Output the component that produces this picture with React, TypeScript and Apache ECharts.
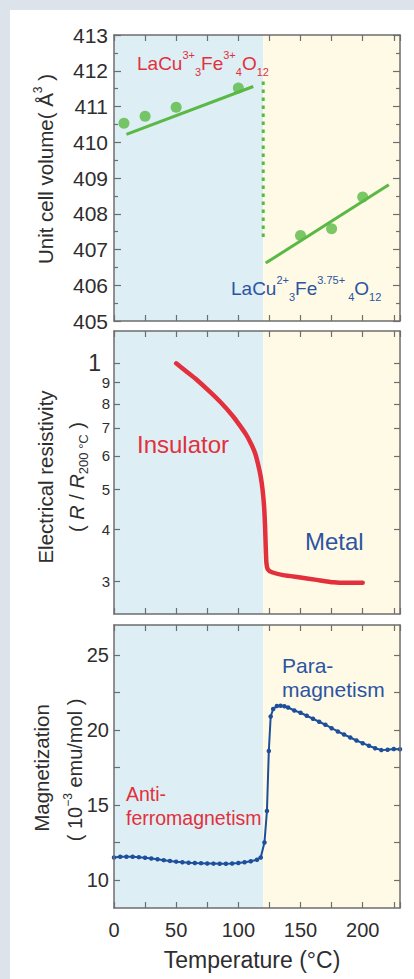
import React, { useEffect, useRef } from "react";
import * as echarts from "echarts";

const FONT = "'Liberation Sans', Arial, Helvetica, sans-serif";
const GREEN = "#5ab945";
const RED = "#e2303c";
const BLUE = "#2c54a2";
const LINE_BLUE = "#1e4f9d";
const AXIS = "#6e6e6e";
const TEXT = "#2e2e2e";
const SHADE_LOW = "#ddeef4";
const SHADE_HIGH = "#fefae6";

// Temperature axis (shared)
const tempMin = 0;
const tempMax = 230;
const tempTickStep = 25;
const tempLabelStep = 50;
const transitionTemp = 120;

// Panel 1: unit cell volume
const volLowTemp = [8, 25, 50, 100];
const volLowVal = [410.53, 410.73, 410.98, 411.52];
const volHighTemp = [150, 175, 200];
const volHighVal = [407.39, 407.58, 408.47];
const fitLowTemp = [10, 112];
const fitLowVal = [410.22, 411.56];
const fitHighTemp = [122, 221];
const fitHighVal = [406.62, 408.81];
const dividerVal = [411.7, 407.3];
const volMin = 405;
const volMax = 413;

// Panel 2: electrical resistivity (log scale)
const resTemp = [50, 58, 66.5, 77, 86.5, 96, 101, 106.5, 110.5, 113.5, 116, 118, 119.5, 120.7, 121.5, 122, 122.6, 123.7, 127, 136, 150, 163, 176.5, 187, 200];
const resVal = [10.0, 9.57, 9.13, 8.55, 8.02, 7.45, 7.11, 6.73, 6.39, 6.09, 5.71, 5.35, 4.97, 4.54, 4.06, 3.64, 3.32, 3.21, 3.16, 3.11, 3.07, 3.03, 2.99, 2.98, 2.98];
const resTicks = [3, 4, 5, 6, 7, 8, 9, 10];
const resMin = 2.51;
const resMax = 11.95;

// Panel 3: magnetization
const magTemp = [0, 5, 10, 15, 20, 25, 30, 35, 40, 45, 50, 55, 60, 65, 70, 75, 80, 85, 90, 95, 100, 105, 110, 115, 118, 121, 123, 124.5, 126, 128, 131, 134, 137, 140, 145, 150, 155, 160, 165, 170, 175, 180, 185, 190, 195, 200, 205, 210, 215, 220, 225, 230];
const magVal = [11.5, 11.55, 11.55, 11.55, 11.52, 11.48, 11.43, 11.38, 11.32, 11.27, 11.22, 11.18, 11.15, 11.13, 11.12, 11.1, 11.09, 11.08, 11.08, 11.1, 11.13, 11.18, 11.25, 11.35, 11.5, 12.5, 14.6, 18.6, 20.9, 21.4, 21.6, 21.62, 21.58, 21.5, 21.3, 21.15, 20.95, 20.75, 20.55, 20.35, 20.12, 19.9, 19.7, 19.5, 19.3, 19.12, 18.95, 18.78, 18.66, 18.68, 18.73, 18.72];
const magLabels = [10, 15, 20, 25];
const magTicks = [10, 12.5, 15, 17.5, 20, 22.5, 25];
const magMin = 8.13;
const magMax = 27;

const zip = (a: number[], b: number[]) => a.map((v, i) => [v, b[i]]);

const axisLine = { show: true, onZero: false, lineStyle: { color: AXIS, width: 1.5 } };
const tickStyle = { color: AXIS, width: 1.2 };

function tempAxes(gridIndex: number, showLabels: boolean) {
  const base: any = {
    type: "value",
    gridIndex,
    min: tempMin,
    max: tempMax,
    interval: tempTickStep,
    z: 10,
    axisLine,
    splitLine: { show: false },
    axisTick: { inside: true, length: 6, lineStyle: tickStyle },
  };
  return [
    {
      ...base,
      position: "bottom",
      axisLabel: showLabels
        ? {
            formatter: (v: number) => (v % tempLabelStep === 0 && v <= 200 ? String(v) : ""),
            fontSize: 20,
            fontFamily: FONT,
            color: TEXT,
            margin: 12,
          }
        : { show: false },
    },
    { ...base, position: "top", axisLabel: { show: false } },
  ];
}

function shadeSeries(xi: number, yi: number, pts: number[][]) {
  return {
    type: "line",
    xAxisIndex: xi,
    yAxisIndex: yi,
    data: pts,
    symbol: "none",
    silent: true,
    lineStyle: { opacity: 0 },
    z: 1,
    markArea: {
      silent: true,
      z: 1,
      data: [
        [{ xAxis: tempMin, itemStyle: { color: SHADE_LOW } }, { xAxis: transitionTemp }],
        [{ xAxis: transitionTemp, itemStyle: { color: SHADE_HIGH } }, { xAxis: tempMax }],
      ],
    },
  };
}

export default function App() {
  const ref = useRef<HTMLDivElement>(null);
  useEffect(() => {
    if (!ref.current) return;
    const chart = echarts.init(ref.current, undefined, { renderer: "svg" });

    const yLeftRight = (gridIndex: number, extra: any, labelCfg: any) => [
      { type: "value", gridIndex, position: "left", z: 10, axisLine, splitLine: { show: false }, ...extra, axisLabel: labelCfg },
      { type: "value", gridIndex, position: "right", z: 10, axisLine, splitLine: { show: false }, ...extra, axisLabel: { show: false } },
    ];

    const volAxis = yLeftRight(
      0,
      {
        min: volMin,
        max: volMax,
        interval: 1,
        axisTick: { inside: true, length: 7, lineStyle: tickStyle },
        minorTick: { show: true, splitNumber: 2, length: 4, lineStyle: tickStyle },
        minorSplitLine: { show: false },
      },
      { fontSize: 21, fontFamily: FONT, color: TEXT, margin: 6 }
    );
    const resAxis = yLeftRight(
      1,
      {
        type: "log",
        logBase: 10,
        min: resMin,
        max: resMax,
        axisTick: { inside: true, length: 6, lineStyle: tickStyle, customValues: resTicks },
      },
      {
        customValues: resTicks,
        margin: 4,
        fontSize: 15,
        fontFamily: FONT,
        color: TEXT,
        formatter: (v: number) => {
          const r = Math.round(v);
          return r === 10 ? "{b|1}" : "{s|" + r + "}";
        },
        rich: {
          b: { fontSize: 23, fontFamily: FONT, color: TEXT, padding: [0, 9, 0, 0] },
          s: { fontSize: 15, fontFamily: FONT, color: TEXT },
        },
      }
    );
    const magAxis = yLeftRight(
      2,
      {
        min: magMin,
        max: magMax,
        axisTick: { inside: true, length: 6, lineStyle: tickStyle, customValues: magTicks },
      },
      { customValues: magLabels, fontSize: 20, fontFamily: FONT, color: TEXT, margin: 5 }
    );

    const sup = (size: number, c: string) => ({ fontSize: size, fontFamily: FONT, fill: c, verticalAlign: "top", lineHeight: size + 1 });
    const sub = (size: number, c: string) => ({ fontSize: size, fontFamily: FONT, fill: c, verticalAlign: "bottom", lineHeight: size + 1 });
    const main = (size: number, c: string, lh: number) => ({ fontSize: size, fontFamily: FONT, fill: c, lineHeight: lh });

    const option: any = {
      animation: false,
      backgroundColor: "#ffffff",
      grid: [
        { left: 114, right: 14, top: 35, height: 286 },
        { left: 114, right: 14, top: 331, height: 283 },
        { left: 114, right: 14, top: 625, height: 283 },
      ],
      xAxis: [...tempAxes(0, false), ...tempAxes(1, false), ...tempAxes(2, true)],
      yAxis: [...volAxis, ...resAxis, ...magAxis],
      series: [
        shadeSeries(0, 0, zip(fitLowTemp, fitLowVal)),
        shadeSeries(2, 2, zip(resTemp, resVal)),
        shadeSeries(4, 4, zip(magTemp, magVal)),
        {
          type: "line",
          xAxisIndex: 0,
          yAxisIndex: 0,
          data: zip(fitLowTemp, fitLowVal),
          symbol: "none",
          lineStyle: { color: GREEN, width: 3 },
          z: 3,
        },
        {
          type: "line",
          xAxisIndex: 0,
          yAxisIndex: 0,
          data: zip(fitHighTemp, fitHighVal),
          symbol: "none",
          lineStyle: { color: GREEN, width: 3 },
          z: 3,
        },
        {
          type: "line",
          xAxisIndex: 0,
          yAxisIndex: 0,
          data: dividerVal.map((v) => [transitionTemp, v]),
          symbol: "none",
          lineStyle: { color: GREEN, width: 3, type: [3.5, 4.5] },
          z: 3,
        },
        {
          type: "scatter",
          xAxisIndex: 0,
          yAxisIndex: 0,
          data: [...zip(volLowTemp, volLowVal), ...zip(volHighTemp, volHighVal)],
          symbolSize: 11,
          itemStyle: { color: GREEN },
          z: 4,
        },
        {
          type: "line",
          xAxisIndex: 2,
          yAxisIndex: 2,
          data: zip(resTemp, resVal),
          symbol: "none",
          smooth: 0.2,
          lineStyle: { color: RED, width: 4.5, cap: "round", join: "round" },
          z: 3,
        },
        {
          type: "line",
          xAxisIndex: 4,
          yAxisIndex: 4,
          data: zip(magTemp, magVal),
          symbol: "circle",
          symbolSize: 4.5,
          showSymbol: true,
          itemStyle: { color: LINE_BLUE },
          lineStyle: { color: LINE_BLUE, width: 2 },
          z: 3,
        },
      ],
      graphic: [
        { type: "rect", shape: { x: 0, y: 0, width: 414, height: 10 }, style: { fill: "#dce3eb" }, silent: true },
        { type: "rect", shape: { x: 0, y: 0, width: 10, height: 979 }, style: { fill: "#dce3eb" }, silent: true },
        // Panel 1 formulas
        {
          type: "text",
          x: 137,
          y: 63,
          z: 20,
          style: {
            text: "{m|LaCu}{p|3+}{b|3}{m|Fe}{p|3+}{b|4}{m|O}{b|12}",
            align: "left",
            verticalAlign: "middle",
            fill: RED,
            rich: { m: main(19, RED, 28), p: sup(11, RED), b: sub(11, RED) },
          },
        },
        {
          type: "text",
          x: 231,
          y: 288,
          z: 20,
          style: {
            text: "{m|LaCu}{p|2+}{b|3}{m|Fe}{p|3.75+ }{b|4}{m|O}{b|12}",
            align: "left",
            verticalAlign: "middle",
            fill: BLUE,
            rich: { m: main(19, BLUE, 28), p: sup(11, BLUE), b: sub(11, BLUE) },
          },
        },
        // Panel 1 y label
        {
          type: "text",
          x: 45,
          y: 169,
          rotation: Math.PI / 2,
          style: {
            text: "{m|Unit cell volume( Å}{p|3}{m| )}",
            align: "center",
            verticalAlign: "middle",
            fill: TEXT,
            rich: { m: main(20.5, TEXT, 26), p: sup(12, TEXT) },
          },
        },
        // Panel 2 labels
        {
          type: "text",
          x: 45,
          y: 477,
          rotation: Math.PI / 2,
          style: { text: "Electrical resistivity", align: "center", verticalAlign: "middle", fontSize: 20.5, fontFamily: FONT, fill: TEXT },
        },
        {
          type: "text",
          x: 77,
          y: 477,
          rotation: Math.PI / 2,
          style: {
            text: "{m|( }{i|R}{m| / }{i|R}{b|200 °C}{m| )}",
            align: "center",
            verticalAlign: "middle",
            fill: TEXT,
            rich: {
              m: main(20, TEXT, 26),
              i: { ...main(20, TEXT, 26), fontStyle: "italic" },
              b: sub(13, TEXT),
            },
          },
        },
        {
          type: "text",
          x: 137,
          y: 444,
          z: 20,
          style: { text: "Insulator", align: "left", verticalAlign: "middle", fontSize: 24, fontFamily: FONT, fill: RED },
        },
        {
          type: "text",
          x: 305,
          y: 541,
          z: 20,
          style: { text: "Metal", align: "left", verticalAlign: "middle", fontSize: 24, fontFamily: FONT, fill: BLUE },
        },
        // Panel 3 labels
        {
          type: "text",
          x: 41,
          y: 768,
          rotation: Math.PI / 2,
          style: { text: "Magnetization", align: "center", verticalAlign: "middle", fontSize: 20.5, fontFamily: FONT, fill: TEXT },
        },
        {
          type: "text",
          x: 75,
          y: 770,
          rotation: Math.PI / 2,
          style: {
            text: "{m|( 10}{p|−3}{m| emu/mol )}",
            align: "center",
            verticalAlign: "middle",
            fill: TEXT,
            rich: { m: main(20, TEXT, 26), p: sup(12, TEXT) },
          },
        },
        {
          type: "text",
          x: 282,
          y: 665,
          z: 20,
          style: { text: "Para-", align: "left", verticalAlign: "middle", fontSize: 21, fontFamily: FONT, fill: BLUE },
        },
        {
          type: "text",
          x: 282,
          y: 689,
          z: 20,
          style: { text: "magnetism", align: "left", verticalAlign: "middle", fontSize: 21, fontFamily: FONT, fill: BLUE },
        },
        {
          type: "text",
          x: 126,
          y: 794,
          z: 20,
          style: { text: "Anti-", align: "left", verticalAlign: "middle", fontSize: 19.5, fontFamily: FONT, fill: RED },
        },
        {
          type: "text",
          x: 126,
          y: 818,
          z: 20,
          style: { text: "ferromagnetism", align: "left", verticalAlign: "middle", fontSize: 19.5, fontFamily: FONT, fill: RED },
        },
        {
          type: "text",
          x: 252,
          y: 960,
          style: { text: "Temperature (°C)", align: "center", verticalAlign: "middle", fontSize: 23, fontFamily: FONT, fill: TEXT },
        },
      ],
    };
    chart.setOption(option);
    return () => chart.dispose();
  }, []);

  return <div ref={ref} style={{ position: "fixed", left: 0, top: 0, width: 414, height: 979 }} />;
}
